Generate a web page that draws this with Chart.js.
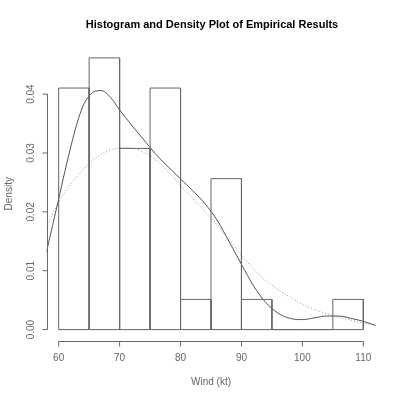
<!DOCTYPE html>
<html>
<head>
<meta charset="utf-8">
<script src="https://cdn.jsdelivr.net/npm/chart.js@4/dist/chart.umd.min.js"></script>
<style>
  body { margin: 0; background: #fff; }
  canvas { display: block; }
</style>
</head>
<body>
<canvas id="chart" width="400" height="399"></canvas>
<script>
// histogram bins (Wind, kt) and their densities
const breaks = [60, 65, 70, 75, 80, 85, 90, 95, 100, 105, 110];
const densities = [0.04103, 0.04615, 0.03077, 0.04103, 0.00513, 0.02564, 0.00513, 0, 0, 0.00513];

// kernel density estimate (solid line)
const kdeX = [58, 59, 60, 61, 62, 63, 64, 65, 66, 67, 68, 69, 70, 72, 74, 76, 78, 80, 82, 84, 86, 88, 90, 92, 94, 96, 98, 100, 102, 104, 106, 108, 110, 112];
const kdeY = [0.0132, 0.0177, 0.0222, 0.0268, 0.0311, 0.0350, 0.0380, 0.0397, 0.0405, 0.0406, 0.0400, 0.0388, 0.0373, 0.0347, 0.0322, 0.0297, 0.0276, 0.0256, 0.0236, 0.0214, 0.0186, 0.0149, 0.0111, 0.0074, 0.0046, 0.0028, 0.0019, 0.0017, 0.0020, 0.0023, 0.0023, 0.0019, 0.0014, 0.0007];

// fitted density (dotted line)
const fitX = [58, 60, 62, 64, 66, 68, 70, 71, 72, 74, 76, 78, 80, 82, 84, 86, 88, 90, 92, 94, 96, 98, 100, 102, 104, 106, 108, 110, 112];
const fitY = [0.0172, 0.0217, 0.0248, 0.0272, 0.0291, 0.0303, 0.0309, 0.0310, 0.0309, 0.0301, 0.0288, 0.0268, 0.0245, 0.0223, 0.0201, 0.0178, 0.0152, 0.0126, 0.0103, 0.0083, 0.0068, 0.0055, 0.0043, 0.0034, 0.0027, 0.0021, 0.0016, 0.0011, 0.0008];

const xTicks = [60, 70, 80, 90, 100, 110];
const yTicks = [0.00, 0.01, 0.02, 0.03, 0.04];

const titleText = 'Histogram and Density Plot of Empirical Results';
const xTitle = 'Wind (kt)';
const yTitle = 'Density';

const fontFamily = '"Liberation Sans", Arial, Helvetica, sans-serif';

// each bin as a closed rectangle, separated by a gap
let histPoints = [];
for (let i = 0; i < densities.length; i++) {
    let a = breaks[i];
    let b = breaks[i + 1];
    let h = densities[i];
    histPoints.push({ x: a, y: 0 }, { x: a, y: h }, { x: b, y: h }, { x: b, y: 0 }, { x: a, y: 0 });
    histPoints.push({ x: b, y: null });
}

const kdePoints = kdeX.map((x, i) => ({ x: x, y: kdeY[i] }));
const fitPoints = fitX.map((x, i) => ({ x: x, y: fitY[i] }));

// R-style axes, labels and title
const rAxes = {
    id: 'r_axes',
    afterDraw: (chart) => {
        const ctx = chart.ctx;
        const xs = chart.scales.x;
        const ys = chart.scales.y;
        const area = chart.chartArea;
        ctx.save();
        ctx.strokeStyle = '#666';
        ctx.lineWidth = 1;
        ctx.fillStyle = '#666';
        ctx.font = '10px ' + fontFamily;

        // x axis
        let yAxis = Math.round(area.bottom) + 0.5;
        ctx.beginPath();
        ctx.moveTo(xs.getPixelForValue(xTicks[0]), yAxis);
        ctx.lineTo(xs.getPixelForValue(xTicks[xTicks.length - 1]), yAxis);
        ctx.stroke();
        ctx.textAlign = 'center';
        ctx.textBaseline = 'middle';
        xTicks.forEach(t => {
            let px = xs.getPixelForValue(t);
            ctx.beginPath();
            ctx.moveTo(px, yAxis);
            ctx.lineTo(px, yAxis + 5);
            ctx.stroke();
            ctx.fillText(String(t), px, yAxis + 17);
        });

        // y axis
        let xAxis = Math.round(area.left) + 0.5;
        ctx.beginPath();
        ctx.moveTo(xAxis, ys.getPixelForValue(yTicks[0]));
        ctx.lineTo(xAxis, ys.getPixelForValue(yTicks[yTicks.length - 1]));
        ctx.stroke();
        yTicks.forEach(t => {
            let py = ys.getPixelForValue(t);
            ctx.beginPath();
            ctx.moveTo(xAxis, py);
            ctx.lineTo(xAxis - 5, py);
            ctx.stroke();
            ctx.save();
            ctx.translate(xAxis - 16, py);
            ctx.rotate(-Math.PI / 2);
            ctx.fillText(t.toFixed(2), 0, 0);
            ctx.restore();
        });

        // axis titles
        let midX = (area.left + area.right) / 2;
        let midY = (area.top + area.bottom) / 2;
        ctx.fillText(xTitle, midX, yAxis + 41);
        ctx.save();
        ctx.translate(9, midY);
        ctx.rotate(-Math.PI / 2);
        ctx.fillText(yTitle, 0, 0);
        ctx.restore();

        // main title
        ctx.fillStyle = '#000';
        ctx.font = 'bold 11px ' + fontFamily;
        ctx.fillText(titleText, midX + 1, 25);
        ctx.restore();
    }
};

const config = {
    type: 'line',
    data: {
        datasets: [
            {
                label: 'Histogram',
                data: histPoints,
                borderColor: '#666',
                borderWidth: 1,
                pointRadius: 0,
                tension: 0,
                spanGaps: false,
                fill: false
            },
            {
                label: 'Kernel density',
                data: kdePoints,
                borderColor: '#555',
                borderWidth: 1,
                pointRadius: 0,
                cubicInterpolationMode: 'monotone',
                fill: false
            },
            {
                label: 'Fitted density',
                data: fitPoints,
                borderColor: '#999',
                borderWidth: 1,
                borderDash: [1, 2],
                pointRadius: 0,
                cubicInterpolationMode: 'monotone',
                fill: false
            }
        ]
    },
    options: {
        responsive: false,
        animation: false,
        events: [],
        layout: {
            padding: { left: 46.5, right: 24.5, top: 47, bottom: 58.5 }
        },
        plugins: {
            legend: { display: false },
            tooltip: { enabled: false },
            title: { display: false }
        },
        scales: {
            x: { type: 'linear', min: 58, max: 112, display: false },
            y: { type: 'linear', min: -0.00185, max: 0.048, display: false }
        }
    },
    plugins: [rAxes]
};

let chart = new Chart(document.getElementById('chart'), config);
</script>
</body>
</html>
